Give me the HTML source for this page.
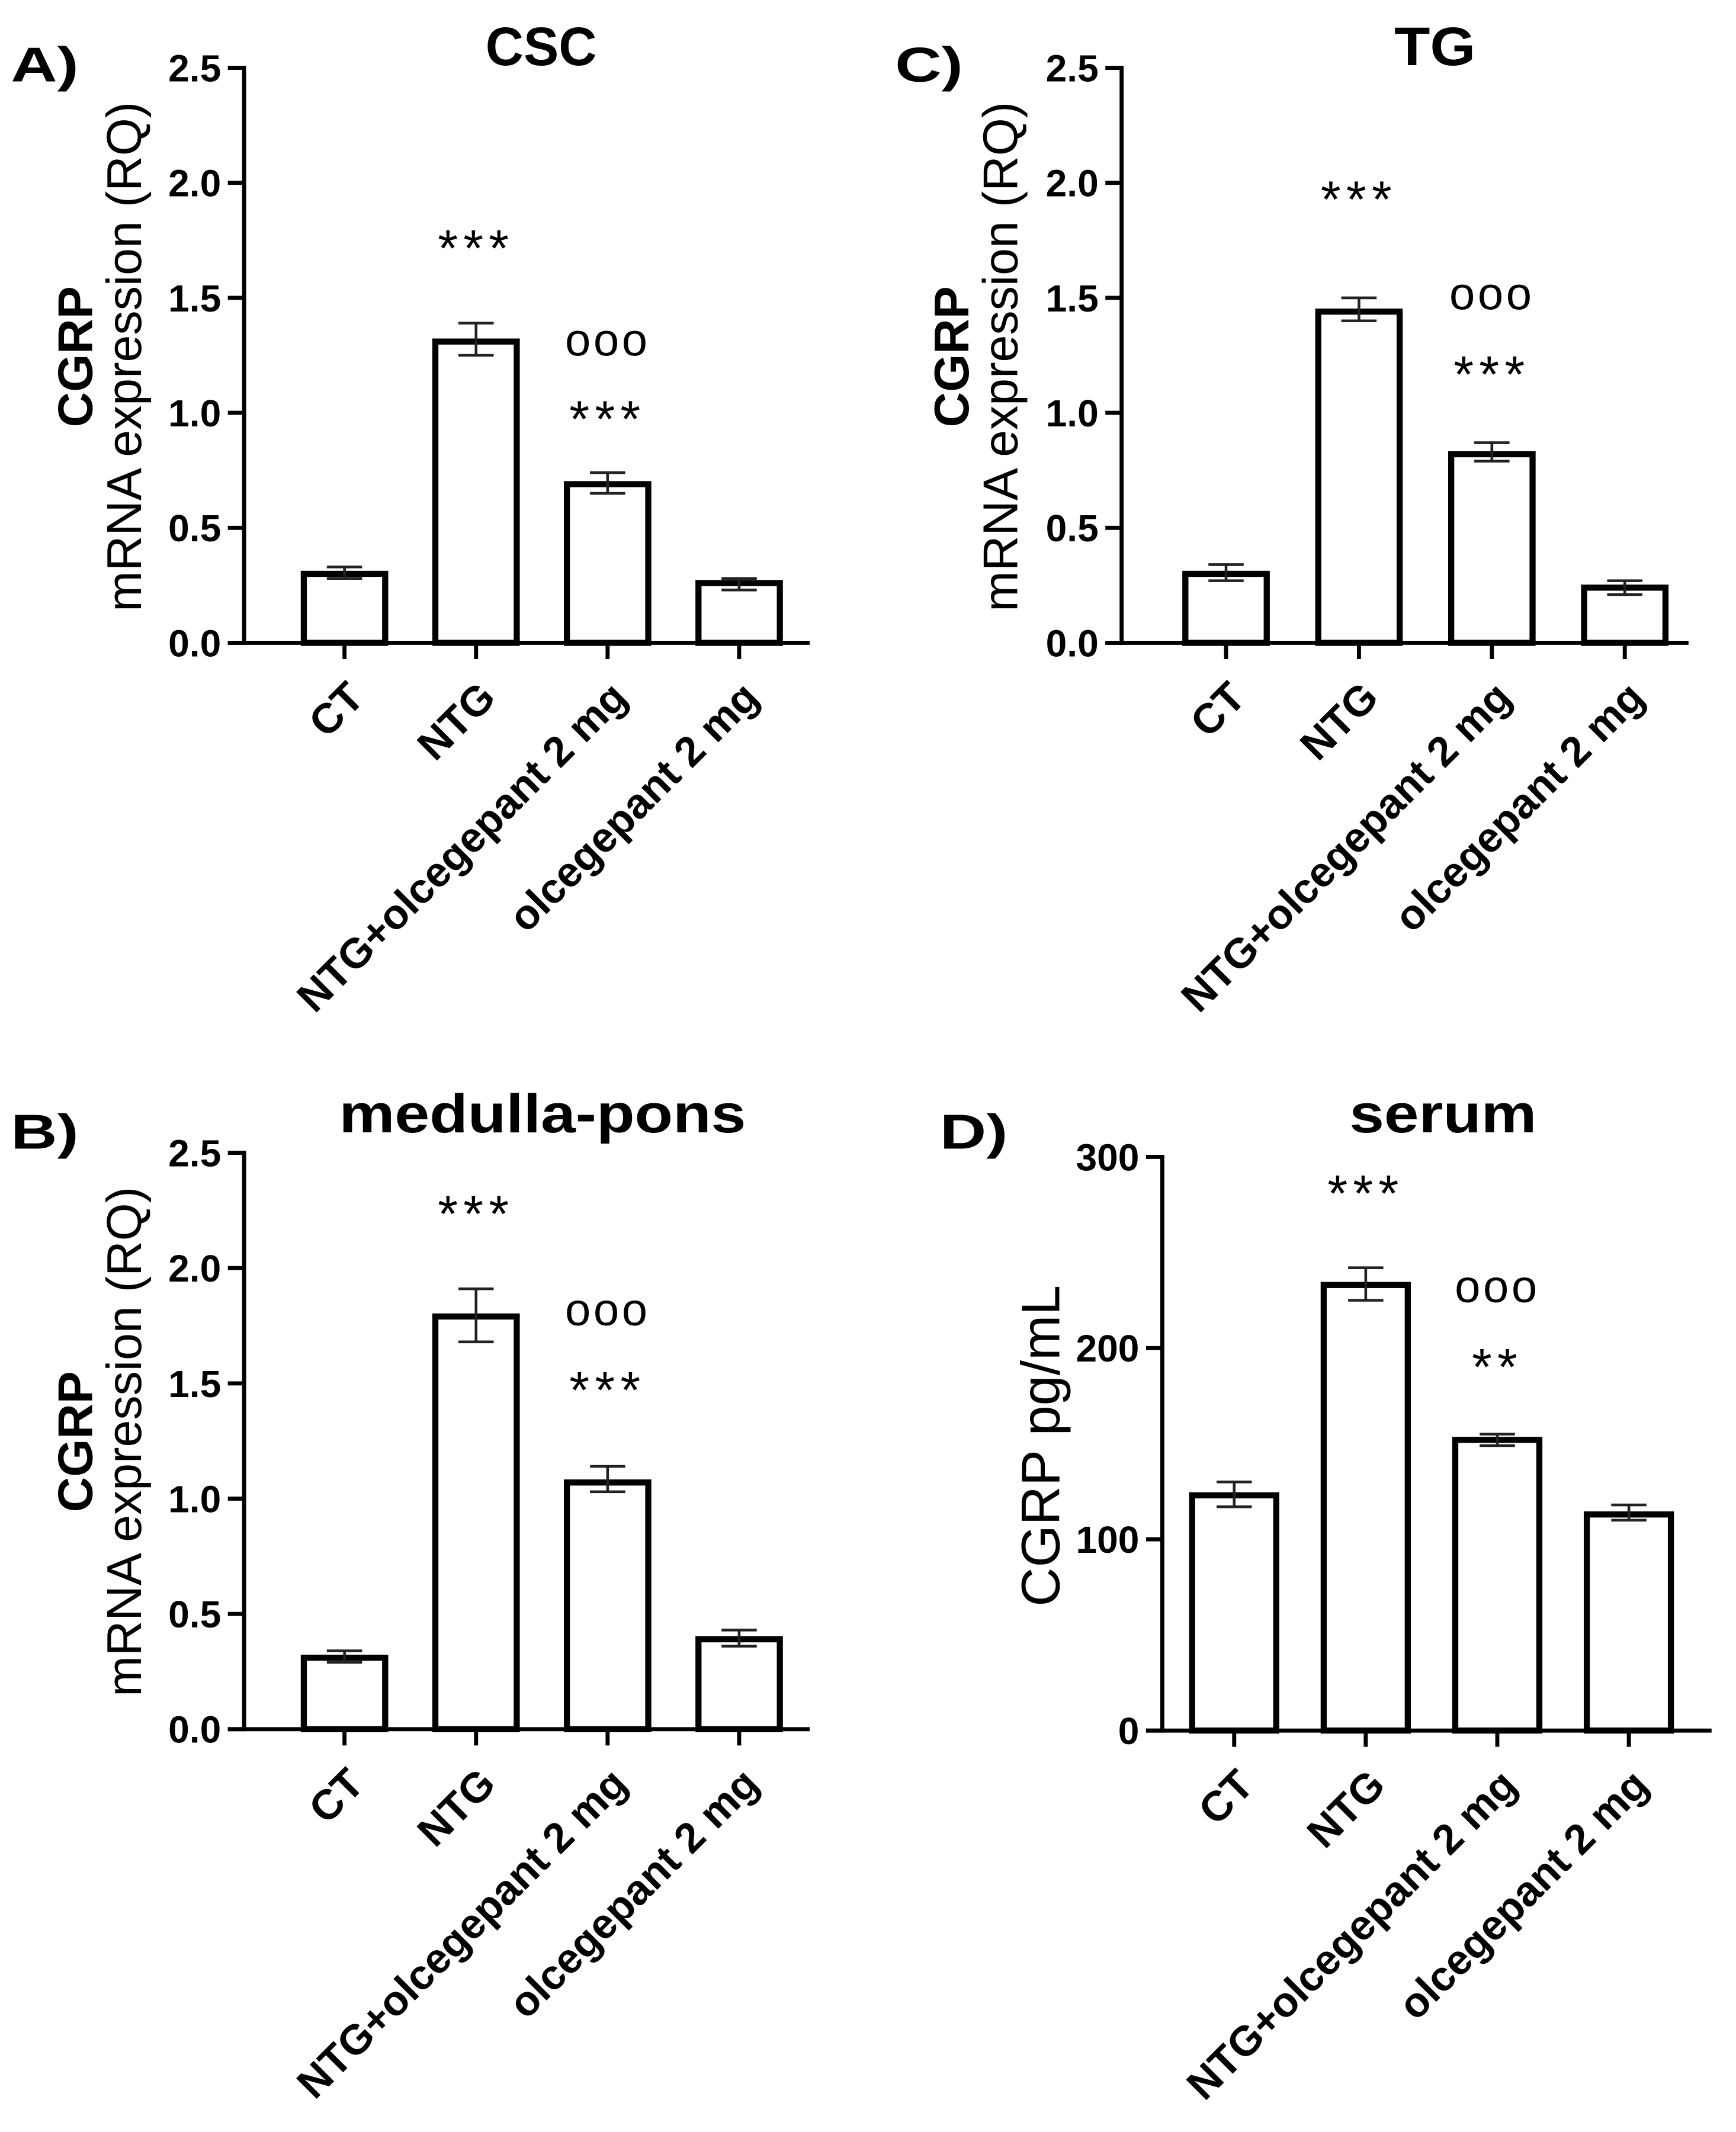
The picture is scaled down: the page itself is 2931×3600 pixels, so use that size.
<!DOCTYPE html>
<html><head><meta charset="utf-8">
<style>
html,body{margin:0;padding:0;background:#fff;}
svg{display:block;}
text{font-family:"Liberation Sans",Arial,sans-serif;fill:#000;}
</style></head>
<body>
<svg id="fig" width="2931" height="3600" viewBox="0 0 1280 1572" preserveAspectRatio="none" xmlns="http://www.w3.org/2000/svg">
<rect width="1280" height="1572" fill="#fff"/>
</svg>
<script>
const categories = ["CT", "NTG", "NTG+olcegepant 2 mg", "olcegepant 2 mg"];
// Panel A (CSC)
const valuesA = [0.30, 1.31, 0.69, 0.26];
const errLoA = [0.28, 1.25, 0.65, 0.23];
const errHiA = [0.33, 1.39, 0.74, 0.28];
const ticksA = [0, 0.5, 1.0, 1.5, 2.0, 2.5];
const tickLabelsA = ["0.0", "0.5", "1.0", "1.5", "2.0", "2.5"];
// Panel C (TG)
const valuesC = [0.30, 1.44, 0.82, 0.24];
const errLoC = [0.27, 1.40, 0.79, 0.21];
const errHiC = [0.34, 1.50, 0.87, 0.27];
// Panel B (medulla-pons)
const valuesB = [0.31, 1.79, 1.07, 0.39];
const errLoB = [0.29, 1.68, 1.03, 0.36];
const errHiB = [0.34, 1.91, 1.14, 0.43];
// Panel D (serum)
const valuesD = [123, 233, 152, 113];
const errLoD = [117, 225, 149, 110];
const errHiD = [130, 242, 155, 118];
const ticksD = [0, 100, 200, 300];
const tickLabelsD = ["0", "100", "200", "300"];

const NS = "http://www.w3.org/2000/svg";
const svg = document.getElementById("fig");
function mk(tag, attrs, parent, txt) {
  const e = document.createElementNS(NS, tag);
  for (const k in attrs) e.setAttribute(k, attrs[k]);
  if (txt !== undefined) e.textContent = txt;
  (parent || svg).appendChild(e);
  return e;
}

function panel(p) {
  const g = mk("g", {});
  
  
  const yMax = p.ticks[p.ticks.length - 1];
  const ys = v => p.y0 - (v / yMax) * (p.y0 - p.yTop);
  const xs = i => p.x0 + p.firstGap + i * p.step;

  const letter = mk("text", {x: p.letterX, y: p.letterY, "font-size": 36, "font-weight": "bold", textLength: 50, lengthAdjust: "spacingAndGlyphs"}, g, p.id + ")");
  
  
  const title = mk("text", {x: p.titleX, y: p.titleY, "font-size": 40, "font-weight": "bold", "text-anchor": "middle", textLength: p.titleLen, lengthAdjust: "spacingAndGlyphs"}, g, p.title);
  
  

  // y axis title
  p.yTitleLines.forEach((l, i) => {
    const t = mk("text", {x: 0, y: 0, "font-size": p.yTitleSize, "font-weight": i === 0 && p.yTitleLines.length > 1 ? "bold" : "normal", "text-anchor": "middle", transform: "translate(" + p.yTitleX[i] + "," + p.yTitleY + ") rotate(-90)"}, g, l);
    
    
  });

  // bars
  p.values.forEach((v, i) => {
    const cx = xs(i);
    const bar = mk("rect", {x: cx - p.barW / 2, y: ys(v), width: p.barW, height: p.y0 - ys(v), fill: "#fff", stroke: "#000", "stroke-width": 4.5}, g);
    
    
    const eg = mk("g", {stroke: "#222", "stroke-width": 2, fill: "none"}, g);
    
    
    mk("line", {x1: cx, x2: cx, y1: ys(p.lo[i]), y2: ys(p.hi[i])}, eg);
    mk("line", {x1: cx - 13, x2: cx + 13, y1: ys(p.hi[i]), y2: ys(p.hi[i])}, eg);
    mk("line", {x1: cx - 13, x2: cx + 13, y1: ys(p.lo[i]), y2: ys(p.lo[i])}, eg);
  });

  // axes
  const ya = mk("line", {x1: p.x0, x2: p.x0, y1: p.yTop - 1.5, y2: p.y0 + 1.5, stroke: "#000", "stroke-width": 3}, g);
  
  
  const xa = mk("line", {x1: p.x0 - 12, x2: p.xEnd, y1: p.y0, y2: p.y0, stroke: "#000", "stroke-width": 3}, g);
  
  
  p.ticks.forEach((t, i) => {
    mk("line", {x1: p.x0 - 12, x2: p.x0, y1: ys(t), y2: ys(t), stroke: "#000", "stroke-width": 3}, g);
    const tl = mk("text", {x: p.x0 - 17, y: ys(t) + 10, "font-size": 28, "font-weight": "bold", "text-anchor": "end"}, g, p.tickLabels[i]);
    
    
  });
  categories.forEach((c, i) => {
    const cx = xs(i);
    mk("line", {x1: cx, x2: cx, y1: p.y0, y2: p.y0 + 12, stroke: "#000", "stroke-width": 3}, g);
    const xl = mk("text", {x: 0, y: 0, "font-size": 31, "font-weight": "bold", "text-anchor": "end", transform: "translate(" + (cx + 16) + "," + (p.y0 + 42) + ") rotate(-45)"}, g, c);
    
    
  });

  // significance marks
  p.marks.forEach(m => {
    const star = m.t.indexOf("*") >= 0;
    const t = mk("text", {x: xs(m.i), y: m.y, "font-size": star ? 38 : 34, "text-anchor": "middle", "letter-spacing": star ? 4 : 2}, g, m.t);
    
    
  });
}

panel({id: "A", title: "CSC", titleLen: 82, titleX: 399, titleY: 48, letterX: 8, letterY: 60,
  x0: 180, xEnd: 597, yTop: 50, y0: 474, firstGap: 74, step: 97, barW: 60,
  values: valuesA, lo: errLoA, hi: errHiA, ticks: ticksA, tickLabels: tickLabelsA,
  yTitleX: [68, 104], yTitleY: 263, yTitleSize: 36, yTitleLines: ["CGRP", "mRNA expression (RQ)"],
  marks: [{i: 1, y: 196, t: "***"}, {i: 2, y: 262, t: "ooo"}, {i: 2, y: 322, t: "***"}]});

panel({id: "C", title: "TG", titleLen: 60, titleX: 1058, titleY: 48, letterX: 660, letterY: 60,
  x0: 827, xEnd: 1245, yTop: 50, y0: 474, firstGap: 77, step: 98, barW: 60,
  values: valuesC, lo: errLoC, hi: errHiC, ticks: ticksA, tickLabels: tickLabelsA,
  yTitleX: [714, 750], yTitleY: 263, yTitleSize: 36, yTitleLines: ["CGRP", "mRNA expression (RQ)"],
  marks: [{i: 1, y: 160, t: "***"}, {i: 2, y: 228, t: "ooo"}, {i: 2, y: 289, t: "***"}]});

panel({id: "B", title: "medulla-pons", titleLen: 300, titleX: 400, titleY: 835, letterX: 8, letterY: 847,
  x0: 180, xEnd: 597, yTop: 850, y0: 1275, firstGap: 74, step: 97, barW: 60,
  values: valuesB, lo: errLoB, hi: errHiB, ticks: ticksA, tickLabels: tickLabelsA,
  yTitleX: [68, 104], yTitleY: 1063, yTitleSize: 36, yTitleLines: ["CGRP", "mRNA expression (RQ)"],
  marks: [{i: 1, y: 908, t: "***"}, {i: 2, y: 977, t: "ooo"}, {i: 2, y: 1038, t: "***"}]});

panel({id: "D", title: "serum", titleLen: 138, titleX: 1064, titleY: 835, letterX: 693, letterY: 847,
  x0: 857, xEnd: 1262, yTop: 853, y0: 1276, firstGap: 53, step: 97, barW: 62,
  values: valuesD, lo: errLoD, hi: errHiD, ticks: ticksD, tickLabels: tickLabelsD,
  yTitleX: [781], yTitleY: 1066, yTitleSize: 40, yTitleLines: ["CGRP pg/mL"],
  marks: [{i: 1, y: 893, t: "***"}, {i: 2, y: 960, t: "ooo"}, {i: 2, y: 1021, t: "**"}]});
</script>
</body></html>
